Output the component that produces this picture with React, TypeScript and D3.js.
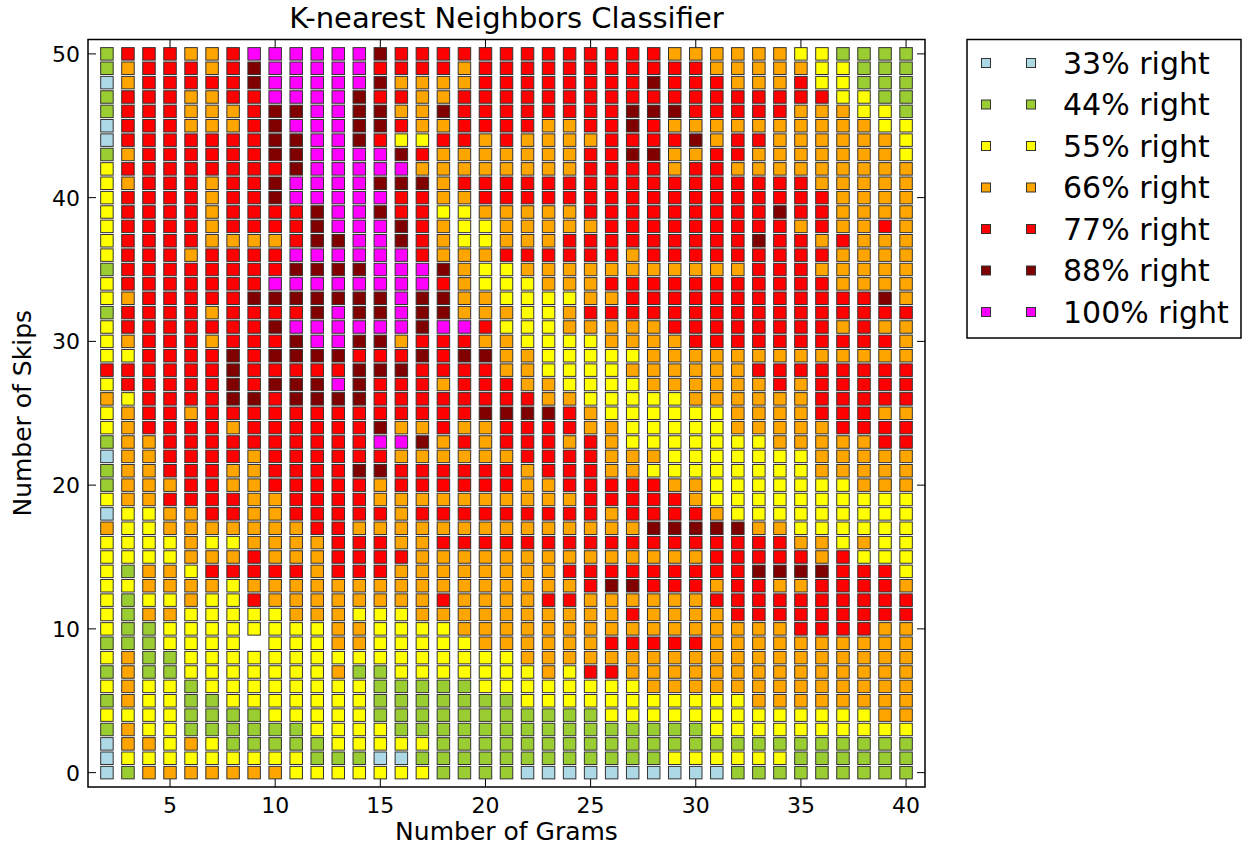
import React from "react";
import * as d3 from "d3";

// legend categories, marker colours and the code letter used in the grid rows
const categoryLabels = ["33% right", "44% right", "55% right", "66% right", "77% right", "88% right", "100% right"];
const categoryCodes = ["b", "g", "y", "o", "r", "d", "m"];
const categoryColors = ["#add8e6", "#9acd32", "#ffff00", "#ffa500", "#ff0000", "#800000", "#ff00ff"];

const gramValues = [2, 3, 4, 5, 6, 7, 8, 9, 10, 11, 12, 13, 14, 15, 16, 17, 18, 19, 20, 21,
  22, 23, 24, 25, 26, 27, 28, 29, 30, 31, 32, 33, 34, 35, 36, 37, 38, 39, 40];
const skipValues = [50, 49, 48, 47, 46, 45, 44, 43, 42, 41, 40, 39, 38, 37, 36, 35, 34, 33, 32, 31,
  30, 29, 28, 27, 26, 25, 24, 23, 22, 21, 20, 19, 18, 17, 16, 15, 14, 13, 12, 11, 10, 9, 8, 7, 6, 5, 4, 3, 2, 1, 0];
const xTicks = [5, 10, 15, 20, 25, 30, 35, 40];
const yTicks = [0, 10, 20, 30, 40, 50];

// one row per skip value (top = 50), three blocks of 13 gram columns (2-14, 15-27, 28-40)
// '.' = no point
const cellRows = [
  "grrroormmmmmm drrrrrrrrrrrr rooooooyygggg",
  "gorrrordmmmmm rrrrorrrrrrrr rrroooooyyggg",
  "borrrrrdmmmmm doooorrrrrrrr drrroooryyggg",
  "grrroorrmmmmd rroorrrrrrrrr rrrrrrrrryygg",
  "grrrooorddmmd doodrrrrrrrrd ddrrrrroooyyg",
  "brrrooordmmmd droorrrroorrd rooooooooooyy",
  "brrrrrrrddmmd ryyrroroooorr rrdorrooooooy",
  "gorrrrrrddmmm mdrooooooorrd doorroooooooy",
  "yrrrrrrrrdmmm mmoooooooorrr rorrooooooooo",
  "yorrrorrdmmmm dddorrrrrrrrr rrrrrrrrooooo",
  "yrrrrorrdmmmm mrroorrrrrrrr rrrrrrrrroooo",
  "yrrrrorrrrdmm drryyooooorrr rrrrrrdrroooo",
  "yrrrrorrrrdmm mdroyyooooorr rrrrrrrorooro",
  "yrrrroooorddm mdroyyooorrrr rrrrrdrrorooo",
  "yrrrorrrrmmmm mmrooorrrrrro rrrrrrrrroooo",
  "grrrrrrrrdddd mmmdoyyoooooo ooooorrrooooo",
  "yrrrrrrrmmmmm mmmroyyyooorr rrrrrrrrroooo",
  "yorrrrrdddddd dmddooyyyyoor rrrrrrrrrrrdo",
  "grrrrorrrrdmd dmddoooyyorrr rrrrrrrrrrrrr",
  "yrrrrrrrdmmmm mmdmmryyyoooo orrrrrrrroroo",
  "yorrrorrrdmmd dorrrooyyyyoo oorrrrrrrrrro",
  "yyrrrrdrddddr rrdrddooyyyyy ooooooooooooo",
  "rrrrrrdrrrrrd ddrrrrooyyyyo ooooorrrrrrrr",
  "yrrrrrdrdddmd rrrorrrooyyyy oooooororrrrr",
  "oyrrrrddrdddd rrrrrrrrooyyy yyoooooorrrrr",
  "yorrorrrrrrrr rrrrrddddroyy yyyyoooorrroo",
  "yorrrrorrrrrr dooroorrrrooy yyyyooooorrrr",
  "goorrrrrrrrrr mmdororrroroy yyyyyyooooorr",
  "boorrrrorrrrr roooooorrrroo oyyyyyyyooooo",
  "goorrroorrrrd drrrrrrorrroo yyyyyyyyooooo",
  "gooorroorrrrr orrrrrroorrrr rooyyyyyyyooo",
  "yoorrrroorrrr oooooooooorrr rroyyyyyyyyyy",
  "byyoorroorrrr rorrrrrrrrror rrroyyyyyyyyy",
  "oyyooooooorro ooooooooooooo dddddooyyyyyy",
  "yyyyoyyoooorr roorrrrrrrrrr rrrrrrrooyoyy",
  "yyyyooorooorr rrooooooooooo ooorrrrroryyy",
  "ygooyrrrrrorr roooooooorrrr rrrrrddddrrry",
  "yyooooyoooooo oooooooooordd rrrorroorrrro",
  "ygyyoyyrooooo oooroooorrooo ooorrrrrrrrrr",
  "ygooyyyyyoooy yyoooooooooor oooorrrrrrrrr",
  "yggyyyyyyyyoo yyyyooooooooo ooooooorrrroo",
  "gggyyyy.yyyoo yyyyyoooooorr rrroooooooooo",
  "yoggyyyyyyyyy yyyyyyyoooooo ooooooooooooo",
  "goggyyyyyyyog gyyyyyyyoyrro ooooooooooooo",
  "yoyygyyyyyyyy gggggyyyyyyyy ooooooooooooo",
  "goyyggyyyyyyy gggggggyyyyyy yyyyyoooooooo",
  "yyyyggggyyyyy gggggggggggyy yyyyyyyyyyyoo",
  "goyyggggggyyy ygggggggggggg gggyyyyyyyyyy",
  "booyoygggggyy yyygggggggggg ggggggggggggg",
  "byyyyyyyyyggg bbggggggggggg gyyyyyygggggg",
  "bgoooooooyyyy yyyggggbbbbbb bbbbggggggggg",
];

const W = 1243;
const H = 847;
const left = 88, right = 925, top = 39.5, bottom = 787;
const font = "DejaVu Sans";

export default function App() {
  const x = d3.scaleLinear().domain([1.1, 40.9]).range([left, right]);
  const y = d3.scaleLinear().domain([-1, 51]).range([bottom, top]);
  const color = d3.scaleOrdinal<string, string>().domain(categoryCodes).range(categoryColors);

  const cells: { g: number; s: number; c: string }[] = [];
  cellRows.forEach((row, i) => {
    row.split(" ").forEach((block, k) => {
      block.split("").forEach((c, j) => {
        const g = gramValues[k * 13 + j];
        if (c === "." || g === undefined) return;
        cells.push({ g, s: skipValues[i], c });
      });
    });
  });

  const m = 12.5;
  const tickLen = 8;

  return (
    <svg width={W} height={H} style={{ position: "absolute", left: 0, top: 0, background: "#fff" }}>
      <text x={(left + right) / 2} y={28} textAnchor="middle" fontFamily={font} fontSize={29}>
        K-nearest Neighbors Classifier
      </text>

      {cells.map((d, i) => (
        <rect key={i} x={x(d.g) - m / 2} y={y(d.s) - m / 2} width={m} height={m}
          fill={color(d.c)} stroke="#333" strokeWidth={1} />
      ))}

      <rect x={left} y={top} width={right - left} height={bottom - top} fill="none" stroke="#000" strokeWidth={1.5} />

      {xTicks.map(t => (
        <g key={"x" + t}>
          <line x1={x(t)} x2={x(t)} y1={bottom} y2={bottom - tickLen} stroke="#000" />
          <line x1={x(t)} x2={x(t)} y1={top} y2={top + tickLen} stroke="#000" />
          <text x={x(t)} y={813} textAnchor="middle" fontFamily={font} fontSize={22}>{t}</text>
        </g>
      ))}
      {yTicks.map(t => (
        <g key={"y" + t}>
          <line x1={left} x2={left + tickLen} y1={y(t)} y2={y(t)} stroke="#000" />
          <line x1={right} x2={right - tickLen} y1={y(t)} y2={y(t)} stroke="#000" />
          <text x={80} y={y(t) + 8} textAnchor="end" fontFamily={font} fontSize={22}>{t}</text>
        </g>
      ))}

      <text x={(left + right) / 2} y={840} textAnchor="middle" fontFamily={font} fontSize={25}>Number of Grams</text>
      <text transform={`translate(31,${(top + bottom) / 2}) rotate(-90)`} textAnchor="middle" fontFamily={font} fontSize={25}>
        Number of Skips
      </text>

      <rect x={967} y={top} width={274} height={298.5} fill="#fff" stroke="#000" strokeWidth={1.5} />
      {categoryLabels.map((label, i) => {
        const cy = 63 + i * 41.5;
        return (
          <g key={label}>
            <rect x={986 - 4.5} y={cy - 4.5} width={9} height={9} fill={categoryColors[i]} stroke="#333" strokeWidth={1} />
            <rect x={1031 - 4.5} y={cy - 4.5} width={9} height={9} fill={categoryColors[i]} stroke="#333" strokeWidth={1} />
            <text x={1063} y={cy + 10.5} fontFamily={font} fontSize={30}>{label}</text>
          </g>
        );
      })}
    </svg>
  );
}
